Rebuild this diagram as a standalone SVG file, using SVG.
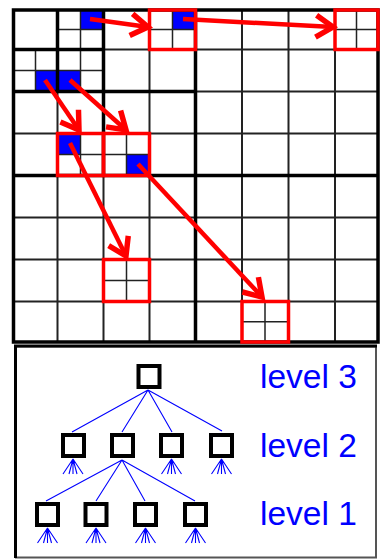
<svg xmlns="http://www.w3.org/2000/svg" width="380" height="559" viewBox="0 0 380 559">
<defs>
<style>
.thin{stroke:#222;stroke-width:2;fill:none}
.sub{stroke:#222;stroke-width:1.5;fill:none}
.thick{stroke:#000;stroke-width:3.5;fill:none}
.blue{fill:#0000ff}
.red{stroke:#ff0000;stroke-width:3.5;fill:none}
.arrow{stroke:#ff0000;stroke-width:4.5;fill:none;marker-end:url(#ah)}
.node{fill:#fff;stroke:#000;stroke-width:4}
.edge{stroke:#0000ff;stroke-width:1.1;fill:none}
.lbl{font-family:"Liberation Sans",Arial,sans-serif;font-size:33.5px;fill:#0000ff}
</style>
<marker id="ah" markerUnits="userSpaceOnUse" markerWidth="34" markerHeight="34" viewBox="-18 -14 22 28" refX="0" refY="0" orient="auto">
<path d="M-14,-9 L0,0 L-14,9" stroke="#ff0000" stroke-width="4.5" fill="none"/>
</marker>
</defs>
<rect width="380" height="559" fill="#fff"/>

<g id="grid">
<!-- blue sub-cells -->
<rect class="blue" x="80.5" y="10" width="23" height="19.5"/>
<rect class="blue" x="172.5" y="10" width="23" height="19.5"/>
<rect class="blue" x="35.5" y="70.5" width="22" height="21"/>
<rect class="blue" x="57.5" y="70.5" width="23" height="21"/>
<rect class="blue" x="57.5" y="133.5" width="23" height="21"/>
<rect class="blue" x="126.5" y="154.5" width="23" height="21"/>
<!-- thin cell lines -->
<path class="thin" d="M57.5,10V342 M103.5,10V342 M149.5,10V342 M242,10V342 M288.5,10V342 M335,10V342 M13.5,49.5H378 M13.5,91.5H378 M13.5,133.5H378 M13.5,217.5H378 M13.5,259.5H378 M13.5,301.5H378"/>
<!-- sub-cell lines -->
<path class="sub" d="M80.5,10V49.5 M57.5,29.5H103.5 M172.5,10V49.5 M149.5,29.5H195.5 M356.5,10V49.5 M335,29.5H378 M35.5,49.5V91.5 M80.5,49.5V91.5 M13.5,70.5H103.5 M80.5,133.5V175.5 M126.5,133.5V175.5 M57.5,154.5H149.5 M126.5,259.5V301.5 M103.5,280.5H149.5 M265,301.5V342 M242,321.7H288.5"/>
<!-- quadtree thick lines -->
<path class="thick" d="M195.5,10V342 M13.5,175.5H378 M103.5,10V175.5 M13.5,91.5H195.5 M57.5,10V91.5 M13.5,49.5H103.5"/>
<rect class="thick" x="13.5" y="10" width="364.5" height="332"/>
<!-- red boxes -->
<rect class="red" x="149.5" y="10" width="46" height="39.5"/>
<rect class="red" x="335" y="10" width="43" height="39.5"/>
<rect class="red" x="57.5" y="133.5" width="46" height="42"/>
<rect class="red" x="103.5" y="133.5" width="46" height="42"/>
<rect class="red" x="103.5" y="259.5" width="46" height="42"/>
<rect class="red" x="242" y="301.5" width="46.5" height="40.5"/>
</g>

<g id="connectors">
<line class="arrow" x1="90" y1="19" x2="148" y2="27"/>
<line class="arrow" x1="183" y1="19" x2="333" y2="27"/>
<line class="arrow" x1="45" y1="80" x2="79" y2="130"/>
<line class="arrow" x1="70" y1="80" x2="126" y2="130"/>
<line class="arrow" x1="70" y1="143" x2="126" y2="256"/>
<line class="arrow" x1="138" y1="164" x2="262" y2="297"/>
</g>

<g id="panel">
<rect x="16" y="346.5" width="360" height="211" fill="#fff" stroke="#555" stroke-width="2"/>
<path d="M15.5,558V346H377" stroke="#000" stroke-width="3" fill="none"/>
</g>

<g id="tree-edges">
<path class="edge" d="M148,390L72,432 M148,390L122,432 M148,390L172,432 M148,390L222,431 M122,460L46,501 M122,460L96,501 M122,460L145,501 M122,460L195,501"/>
<path class="edge" d="M73,459l-10,15M73,459l-4,15M73,459l0,15M73,459l4,15M73,459l10,15 M171.5,459l-10,15M171.5,459l-4,15M171.5,459l0,15M171.5,459l4,15M171.5,459l10,15 M221.5,459l-10,15M221.5,459l-4,15M221.5,459l0,15M221.5,459l4,15M221.5,459l10,15"/>
<path class="edge" d="M47.5,528l-10,15M47.5,528l-4,15M47.5,528l0,15M47.5,528l4,15M47.5,528l10,15 M96,528l-10,15M96,528l-4,15M96,528l0,15M96,528l4,15M96,528l10,15 M145.5,528l-10,15M145.5,528l-4,15M145.5,528l0,15M145.5,528l4,15M145.5,528l10,15 M195.5,528l-10,15M195.5,528l-4,15M195.5,528l0,15M195.5,528l4,15M195.5,528l10,15"/>
</g>

<g id="root"><rect class="node" x="138.5" y="366" width="21" height="21"/></g>
<g id="l2a"><rect class="node" x="63" y="435" width="21" height="21"/></g>
<g id="l2b"><rect class="node" x="112" y="435" width="21" height="21"/></g>
<g id="l2c"><rect class="node" x="161" y="435" width="21" height="21"/></g>
<g id="l2d"><rect class="node" x="211" y="435" width="21" height="21"/></g>
<g id="l1a"><rect class="node" x="37" y="504" width="21" height="21"/></g>
<g id="l1b"><rect class="node" x="85.5" y="504" width="21" height="21"/></g>
<g id="l1c"><rect class="node" x="135" y="504" width="21" height="21"/></g>
<g id="l1d"><rect class="node" x="185" y="504" width="21" height="21"/></g>

<g id="labels">
<text class="lbl" x="260" y="388">level 3</text>
<text class="lbl" x="260" y="457">level 2</text>
<text class="lbl" x="260" y="525">level 1</text>
</g>
</svg>
